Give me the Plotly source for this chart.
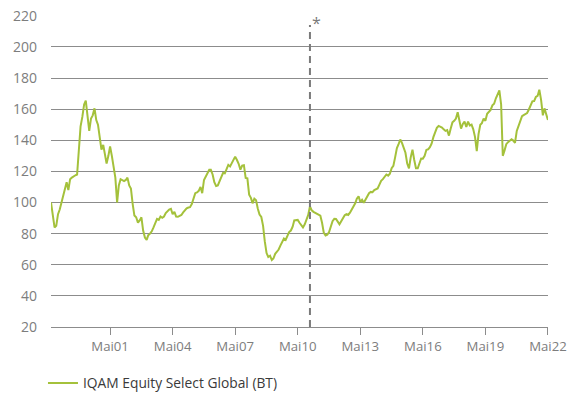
import pandas as pd
import plotly.graph_objects as go

# Monthly index values, Jul 1998 .. May 2022
start_month = "1998-07-01"
values = [
    100, 91, 84, 85, 92.5, 95.5, 100, 104, 108.5, 113, 108, 115, 116, 117, 117.5, 118,
    138, 149, 155, 163, 165.5, 156, 146, 154, 156, 160.5, 153, 150, 142, 134, 137, 129, 125, 130,
    136, 130, 123, 116, 100, 111, 115, 114.5, 113.8, 114.5, 116, 111, 109, 99, 91.6,
    90.5, 87, 88.5, 90.5, 82, 77.5, 76, 79, 80, 81.5, 84, 87, 89.5, 88.8, 91, 90.2, 91,
    93.2, 94.4, 95.5, 96, 92.5, 94, 91, 90.8, 91.3, 92, 93.6, 95.2, 96.2, 96.8, 97, 99,
    103, 106, 106.5, 107.5, 110, 106, 114.5, 117, 119, 121, 121, 118,
    113, 110.6, 111, 113.8, 117, 119, 118.8, 121.3, 124.2, 123.2, 125.3, 128, 129.5, 127.3,
    124.9, 121.1, 123.7, 124, 115.8, 115.5, 105, 103, 99.5, 102.5, 101.5, 96, 92.3, 90.7,
    85, 75, 67.5, 65, 65.8, 63, 64, 67, 68.5, 69.8, 72.3, 75, 76.8, 76, 78.6, 81, 82,
    84.5, 88.5, 88.8,
    88.8, 87, 85.4, 84, 86, 88.5, 92, 97.5, 95, 94, 93.5, 93, 92.2, 91.5, 87, 80.5, 78.8,
    79.3, 81, 85, 88, 89.5, 89.4, 87.7, 86, 88, 90.3, 91.8, 92.5, 92, 93.5, 95.5, 97.3,
    99.5, 102.5, 104, 100.3, 101.8, 99.8, 102, 104.5, 106, 106.8, 106.6, 108, 108.3, 109,
    111.5, 114,
    115, 116.5, 118, 117.3, 118.5, 122, 123.5, 129, 135, 137.3, 140.5, 138.3, 134.5, 132,
    125, 122, 129, 134, 127.5, 122, 122, 125.5, 128.3, 128.2, 130, 133.8, 134.2, 135.5,
    137.8, 142, 145.5, 148, 149.2, 148.8, 148.2, 147, 146, 146.5, 143, 147.5, 151.5, 152.5,
    154, 158, 153.5, 147.5, 150.5,
    152, 148.5, 152, 149.5, 150, 147, 142, 133, 144, 150, 151, 154, 152.5, 157, 158, 159.5,
    162.4, 163.5, 167, 170, 172, 163, 130, 133.5, 137.5, 138.8, 139.5, 140.6, 139.8, 138.3,
    146, 149.5, 153, 155.5, 156.2, 156.8, 157.5, 159.8, 163, 165, 165.2, 167.8, 168.5, 172.5,
    166, 156, 160.5, 156.5, 153,
]
dates = pd.date_range(start_month, periods=len(values), freq="MS")

tick_dates = ["2001-05-01", "2004-05-01", "2007-05-01", "2010-05-01", "2013-05-01",
              "2016-05-01", "2019-05-01", "2022-05-01"]
tick_labels = ["Mai01", "Mai04", "Mai07", "Mai10", "Mai13", "Mai16", "Mai19", "Mai22"]
y_ticks = [20, 40, 60, 80, 100, 120, 140, 160, 180, 200, 220]

event_date = "2010-12-01"
event_top = 214
series_name = "IQAM Equity Select Global (BT)"

grid = "#8c8c8c"
tickc = "#7d7d7d"
green = "#a4c13b"

fig = go.Figure()
fig.add_trace(go.Scatter(x=dates, y=values, mode="lines", name=series_name,
                         line=dict(color=green, width=2)))

fig.add_shape(type="line", x0=event_date, x1=event_date, y0=y_ticks[0], y1=event_top,
              xref="x", yref="y", line=dict(color="#7a7a7a", width=2, dash="7px,5px"))
fig.add_annotation(x=event_date, y=event_top, text="*", showarrow=False, xref="x", yref="y",
                   xshift=7, yshift=2, font=dict(family="Open Sans", size=16, color="#7a7a7a"))

fig.update_layout(
    width=567, height=401,
    margin=dict(l=51, r=19, t=15, b=74, autoexpand=False),
    paper_bgcolor="white", plot_bgcolor="white",
    showlegend=True,
    legend=dict(orientation="h", xref="container", yref="container", x=0.0758, y=0.0449,
                xanchor="left", yanchor="middle",
                font=dict(family="Open Sans", size=13.8, color="#3a3a3a")),
    font=dict(family="Open Sans"),
)
fig.update_xaxes(
    type="date", range=["1998-07-01", "2022-05-02"], automargin=False,
    tickvals=tick_dates, ticktext=tick_labels, ticklabeloverflow="allow",
    showgrid=False, zeroline=False,
    showline=True, linecolor=grid, linewidth=1.2,
    ticks="outside", ticklen=7, tickcolor=grid, tickwidth=1.2,
    tickfont=dict(family="Open Sans", size=13.2, color=tickc),
)
fig.update_yaxes(
    range=[20, 220.5], tickvals=y_ticks, automargin=False, ticklabeloverflow="allow",
    showgrid=True, gridcolor=grid, gridwidth=1.2, zeroline=False, showline=False,
    ticks="", ticklabelstandoff=13,
    tickfont=dict(family="Open Sans", size=14, color=tickc),
)

fig.write_html("out.html", config={"displayModeBar": False},
               post_script="document.body.style.margin='0px';")
